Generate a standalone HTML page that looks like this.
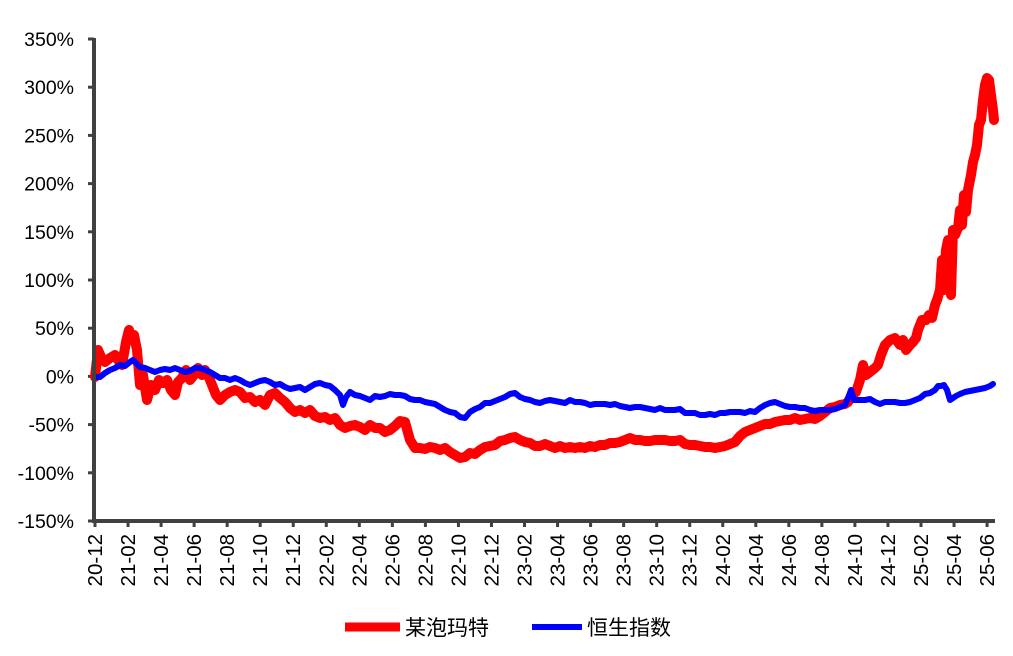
<!DOCTYPE html>
<html><head><meta charset="utf-8"><style>
body{margin:0;background:#fff;}
svg text{font-family:"Liberation Sans","Noto Sans CJK SC",sans-serif;fill:#000;}
</style></head><body>
<svg width="1013" height="651" viewBox="0 0 1013 651" xmlns="http://www.w3.org/2000/svg">
<g font-size="19.5" text-anchor="end" id="yl"></g>
<g id="xl" font-size="20.5"></g>
<g stroke="#404040" stroke-width="3" id="tk"></g>
<polyline id="red" fill="none" stroke="#ff0000" stroke-width="10" stroke-linejoin="round" stroke-linecap="round" points="95,377 98,350 101,357 105,362 110,358 115,355 118,360 122,365 126,342 129,330 131,340 134,335 137,350 140,385 143,375 147,400 151,385 155,390 159,380 163,383 167,380 171,390 175,395 178,382 182,378 186,370 190,380 194,375 198,368 202,375 205,370 208,375 212,385 216,395 220,400 225,395 230,392 235,390 240,392 245,398 250,397 255,402 260,400 265,405 270,395 275,393 280,398 285,402 290,408 295,412 300,410 305,413 310,410 315,416 320,418 325,417 330,420 335,418 340,425 345,428 350,426 355,425 360,427 365,430 370,425 375,428 380,428 385,432 390,430 395,426 400,421 405,422 410,440 415,448 420,448 425,449 430,447 435,448 440,450 445,448 450,452 455,455 460,458 465,457 470,453 475,454 480,450 485,447 490,446 495,445 500,441 505,440 510,438 515,437 520,440 525,442 530,443 535,446 540,446 545,444 550,446 555,448 560,446 565,448 570,447 575,448 580,447 585,448 590,446 595,447 600,445 605,445 610,443 615,443 620,442 625,440 630,438 635,440 640,440 645,441 650,441 655,440 660,440 665,440 670,441 675,441 680,440 685,444 690,445 695,445 700,446 705,447 710,447 715,448 720,447 725,446 730,444 735,442 740,436 745,432 750,430 755,428 760,426 765,424 770,424 775,422 780,421 785,420 790,420 795,418 800,420 805,419 810,418 815,419 820,416 825,412 830,408 835,407 840,405 845,404 848,402 852,395 856,392 860,380 863,365 866,375 870,372 875,368 878,365 881,355 885,345 890,340 895,338 900,345 903,340 906,350 910,345 913,342 916,338 918,330 922,320 926,320 929,315 932,318 935,305 937,300 940,290 942,260 944,290 946,250 948,240 951,295 953,230 955,235 958,228 960,210 962,225 964,195 966,212 968,190 971,175 973,162 975,155 977,145 979,125 981,120 983,100 985,85 987,78 989,80 991,95 993,110 994,120"/>
<polyline fill="none" stroke="#0000ff" stroke-width="6" stroke-linejoin="round" stroke-linecap="round" points="95,377 100,377 105,373 110,370 115,368 120,365 125,366 130,362 133,360 137,364 140,367 145,368 150,370 155,372 160,370 165,369 170,370 175,368 180,370 185,372 190,371 195,368 200,368 205,370 210,372 215,375 220,378 225,378 230,380 235,378 240,380 245,383 250,385 255,383 260,381 265,380 270,382 275,385 280,384 285,387 290,389 295,388 300,387 305,390 310,387 315,384 320,383 325,385 330,386 335,390 340,395 343,405 346,397 350,392 355,395 360,396 365,398 370,400 375,396 380,397 385,396 390,394 395,395 400,395 405,396 410,399 415,400 420,400 425,402 430,403 435,404 440,407 445,410 450,412 455,413 460,417 465,418 470,412 475,409 480,407 485,403 490,403 495,401 500,399 505,397 510,394 515,393 520,397 525,399 530,400 535,402 540,403 545,401 550,400 555,401 560,402 565,403 570,400 575,402 580,402 585,403 590,405 595,404 600,404 605,404 610,405 615,404 620,406 625,407 630,408 635,407 640,407 645,408 650,409 655,410 660,408 665,410 670,410 675,410 680,409 685,413 690,413 695,413 700,415 705,415 710,414 715,415 720,413 725,413 730,412 735,412 740,412 745,413 750,411 755,412 760,408 765,405 770,403 775,402 780,404 785,406 790,407 795,407 800,408 805,408 810,410 815,411 820,410 825,410 830,410 835,409 840,407 845,405 848,398 851,390 854,400 860,400 865,400 870,399 875,402 880,404 885,402 890,402 895,402 900,403 905,403 910,402 915,400 920,398 925,394 930,393 935,390 938,386 941,386 944,385 947,390 950,400 953,398 956,396 960,394 965,392 970,391 975,390 980,389 985,388 990,386 993,384"/>
<line x1="94" y1="38" x2="94" y2="523" stroke="#404040" stroke-width="4"/>
<line x1="92" y1="521" x2="995" y2="521" stroke="#404040" stroke-width="4"/>
<line x1="345" y1="627" x2="400" y2="627" stroke="#ff0000" stroke-width="9"/>
<text x="405" y="635" font-size="21">某泡玛特</text>
<line x1="532" y1="627" x2="582" y2="627" stroke="#0000ff" stroke-width="6"/>
<text x="587" y="635" font-size="21">恒生指数</text>
<script>
var ns="http://www.w3.org/2000/svg";
var yl=document.getElementById('yl'),tk=document.getElementById('tk'),xl=document.getElementById('xl');
for(var i=0;i<=10;i++){var v=350-50*i,y=39+i*48.2;
var t=document.createElementNS(ns,'text');t.setAttribute('x',74);t.setAttribute('y',y+7);t.textContent=v+'%';yl.appendChild(t);
var l=document.createElementNS(ns,'line');l.setAttribute('x1',88);l.setAttribute('x2',94);l.setAttribute('y1',y);l.setAttribute('y2',y);tk.appendChild(l);}
var yr=20,m=12;
for(var j=0;j<28;j++){var x=95+j*33.04;
var lab=yr+'-'+(m<10?'0'+m:m);
var t=document.createElementNS(ns,'text');t.setAttribute('transform','translate('+(x+7)+',534) rotate(-90)');t.setAttribute('text-anchor','end');t.textContent=lab;xl.appendChild(t);
var l=document.createElementNS(ns,'line');l.setAttribute('x1',x);l.setAttribute('x2',x);l.setAttribute('y1',521);l.setAttribute('y2',527);tk.appendChild(l);
m+=2;if(m>12){m-=12;yr++;}}
</script>
</svg>
</body></html>
